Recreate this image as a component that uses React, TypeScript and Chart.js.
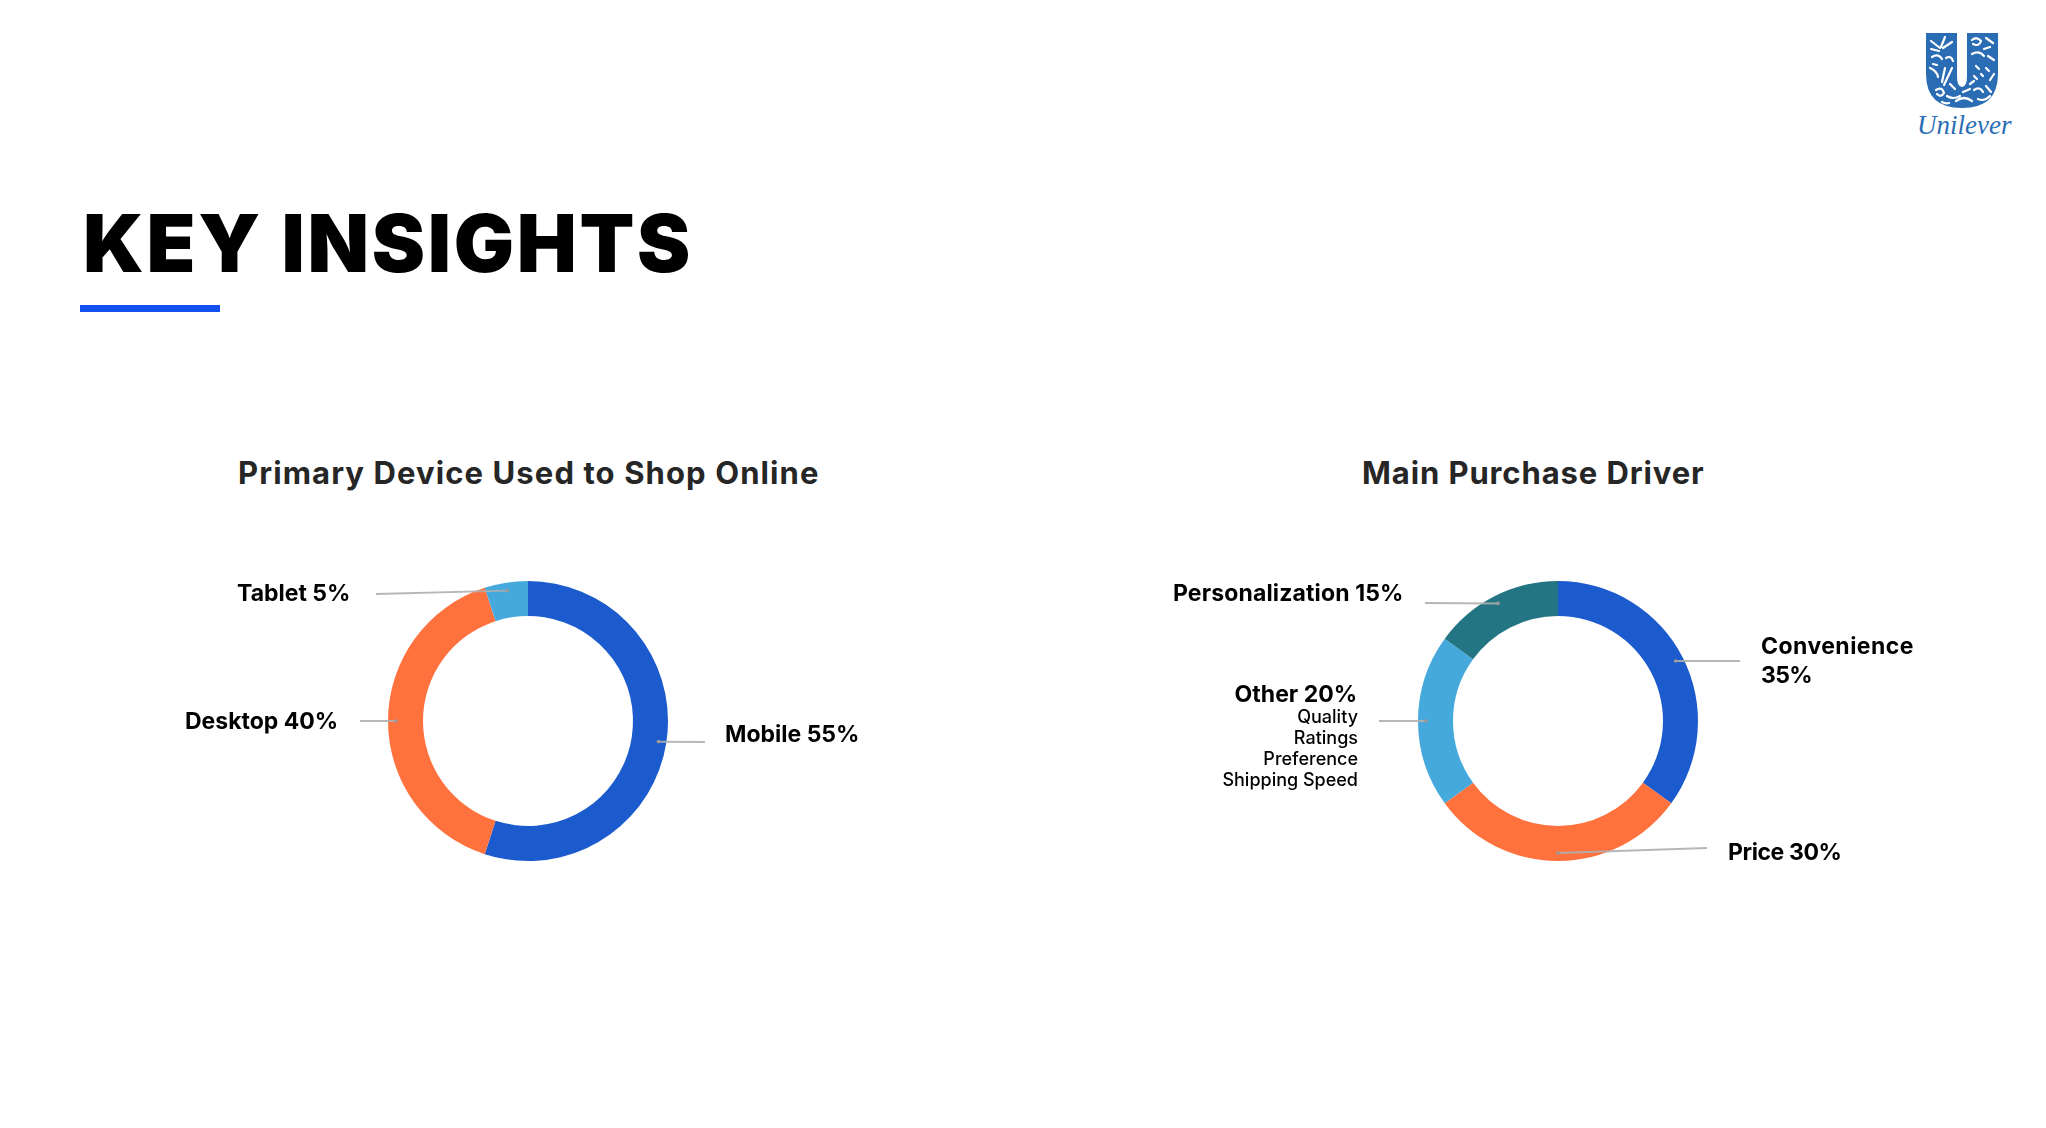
import React, { useEffect, useRef } from "react";
import { Chart, registerables } from "chart.js";

Chart.register(...registerables);

const deviceLabels = ["Mobile", "Desktop", "Tablet"];
const deviceValues = [55, 40, 5];
const deviceColors = ["#1C5BCD", "#FF723E", "#46A9DC"];
const driverLabels = ["Convenience", "Price", "Other", "Personalization"];
const driverValues = [35, 30, 20, 15];
const driverColors = ["#1C5BCD", "#FF723E", "#46A9DC", "#247583"];

const SANS = "Inter, 'Noto Sans', sans-serif";

type Leader = { x: number; y: number };

function Donut({ left, labels, values, colors, leaders }: { left: number; labels: string[]; values: number[]; colors: string[]; leaders: Leader[] }) {
  const ref = useRef<HTMLCanvasElement>(null);
  useEffect(() => {
    const leaderPlugin = {
      id: "leaders",
      afterDatasetsDraw(chart: any) {
        const { ctx } = chart;
        const arcs = chart.getDatasetMeta(0).data;
        const rect = chart.canvas.getBoundingClientRect();
        arcs.forEach((arc: any, i: number) => {
          const mid = (arc.startAngle + arc.endAngle) / 2;
          const ax = arc.x + Math.cos(mid) * 132;
          const ay = arc.y + Math.sin(mid) * 132;
          ctx.save();
          ctx.strokeStyle = "rgba(175,175,175,0.9)";
          ctx.lineWidth = 2;
          ctx.beginPath();
          ctx.moveTo(ax, ay);
          ctx.lineTo(leaders[i].x - rect.left, leaders[i].y - rect.top);
          ctx.stroke();
          ctx.fillStyle = "#9a9a9a";
          ctx.beginPath();
          ctx.arc(ax, ay, 1.8, 0, Math.PI * 2);
          ctx.fill();
          ctx.restore();
        });
      },
    };
    const chart = new Chart(ref.current!, {
      type: "doughnut",
      data: { labels, datasets: [{ data: values, backgroundColor: colors, borderWidth: 0 }] },
      options: {
        animation: false,
        responsive: false,
        radius: 140,
        cutout: "75%",
        layout: { padding: 0 },
        plugins: { legend: { display: false }, tooltip: { enabled: false } },
      } as any,
      plugins: [leaderPlugin],
    });
    return () => chart.destroy();
  }, []);
  return <canvas ref={ref} width={800} height={400} style={{ position: "absolute", left, top: 521, width: 800, height: 400 }} />;
}

function T({ x, r, y, size = 23, weight = 700, color = "#000", ls = 0, children }: any) {
  const style: React.CSSProperties = {
    position: "absolute",
    top: y - 30,
    height: 60,
    lineHeight: "60px",
    fontFamily: SANS,
    fontSize: size,
    fontWeight: weight,
    color,
    letterSpacing: ls,
    whiteSpace: "nowrap",
  };
  if (x !== undefined) style.left = x;
  if (r !== undefined) style.right = 2046 - r;
  return <div style={style}>{children}</div>;
}

const logoSpecks = [
  "M1931 41 l9 7 M1945 37 l-4 10 M1952 42 l-9 6 M1931 49 l8 2 M1932 57 q6 -4 10 2 M1946 58 q5 -3 7 3 M1930 68 q7 3 8 9 M1945 68 l-3 14 M1952 68 l-8 17 M1933 64 l4 1",
  "M1936 90 q6 -4 8 3 q-3 5 -7 1 M1950 84 l5 5 M1947 96 q6 4 13 0 M1956 101 q8 -6 16 0 M1963 92 l7 -3 M1942 102 q4 2 7 1",
  "M1972 40 q5 -4 9 1 q-2 6 -8 3 M1986 38 l7 5 M1990 47 l-6 2 M1972 54 q7 -4 12 2 M1988 56 l6 4 M1976 66 l3 3 M1986 68 l3 3 M1974 76 l3 3 M1981 74 l2 2 M1990 80 l4 -6",
  "M1974 90 q6 -4 9 2 M1986 86 l5 6 M1978 99 q6 3 12 -3 M1970 84 l4 -3",
];

function Logo() {
  return (
    <svg width={120} height={90} viewBox="1920 25 120 90" style={{ position: "absolute", left: 1920, top: 25 }}>
      <path d="M1926 33 H1957 V76 Q1957 87 1962 87 Q1967 87 1967 76 V33 H1998 V74 Q1998 108 1962 108 Q1926 108 1926 74 Z" fill="#2B6DB4" />
      {logoSpecks.map((d, i) => (
        <path key={i} d={d} stroke="#fff" strokeWidth={2.2} fill="none" strokeLinecap="round" />
      ))}
    </svg>
  );
}

export default function App() {
  useEffect(() => {
    document.body.style.margin = "0";
    document.body.style.overflow = "hidden";
  }, []);
  return (
    <div style={{ position: "absolute", left: 0, top: 0, width: 2046, height: 1128, background: "#fff", overflow: "hidden" }}>
      <T x={83} y={243} size={80} weight={900} ls={2.7}>KEY INSIGHTS</T>
      <div style={{ position: "absolute", left: 80, top: 305, width: 140, height: 7, background: "#1450EE" }} />
      <T x={238} y={473} size={31} color="#262626" ls={1.1}>Primary Device Used to Shop Online</T>
      <T x={1362} y={473} size={31} color="#262626" ls={0.9}>Main Purchase Driver</T>

      <Donut left={128} labels={deviceLabels} values={deviceValues} colors={deviceColors} leaders={[{ x: 705, y: 742 }, { x: 360, y: 721 }, { x: 376, y: 594 }]} />
      <Donut left={1158} labels={driverLabels} values={driverValues} colors={driverColors} leaders={[{ x: 1740, y: 661 }, { x: 1707, y: 848 }, { x: 1379, y: 721 }, { x: 1425, y: 603 }]} />

      <T x={237} y={593}>Tablet 5%</T>
      <T x={185} y={721}>Desktop 40%</T>
      <T x={725} y={734}>Mobile 55%</T>
      <T x={1173} y={593} ls={0.14}>Personalization 15%</T>
      <T r={1357} y={694}>Other 20%</T>
      <T r={1358} y={717} size={18} weight={500}>Quality</T>
      <T r={1358} y={738} size={18} weight={500}>Ratings</T>
      <T r={1358} y={759} size={18} weight={500}>Preference</T>
      <T r={1358} y={780} size={18} weight={500}>Shipping Speed</T>
      <T x={1761} y={646} ls={0.45}>Convenience</T>
      <T x={1761} y={675} ls={-0.6}>35%</T>
      <T x={1728} y={852} ls={-0.4}>Price 30%</T>

      <Logo />
      <div style={{ position: "absolute", left: 1917, top: 108, fontFamily: "'Liberation Serif', serif", fontStyle: "italic", fontSize: 27, color: "#2B6DB4", lineHeight: "34px", letterSpacing: 0 }}>Unilever</div>
    </div>
  );
}
